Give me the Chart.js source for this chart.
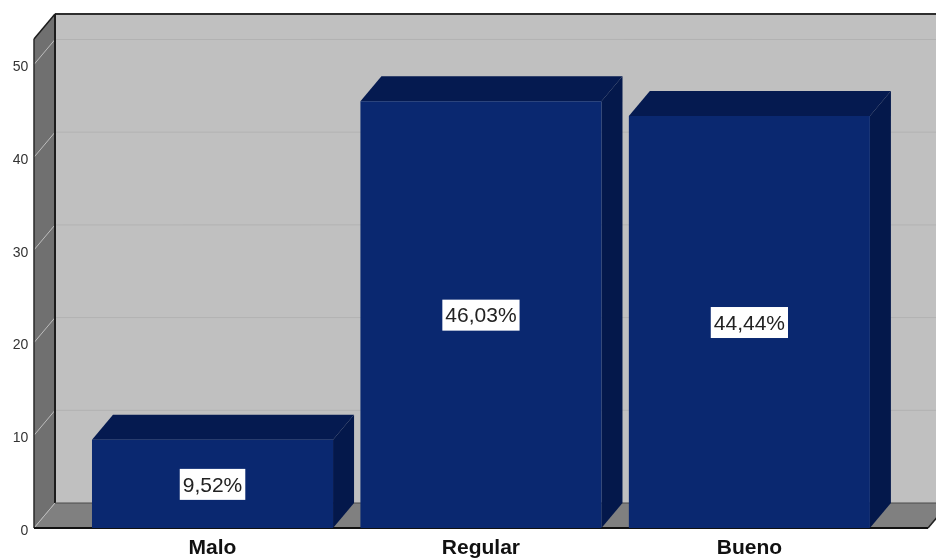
<!DOCTYPE html>
<html>
<head>
<meta charset="utf-8">
<title>Chart</title>
<script src="https://cdn.jsdelivr.net/npm/chart.js@4"></script>
<style>
  body { margin: 0; background: #fff; }
  canvas { display: block; }
</style>
</head>
<body>
<canvas id="barChart" width="936" height="558"></canvas>
<script>
var categories = ['Malo', 'Regular', 'Bueno'];
var percentages = [9.52, 46.03, 44.44];
var percentLabels = ['9,52%', '46,03%', '44,44%'];
var yTicks = [0, 10, 20, 30, 40, 50];

// depth of the fake 3D box, in px
var DEPTH_X = 21;
var DEPTH_Y = 25;

function poly(ctx, pts, fill) {
    ctx.beginPath();
    ctx.moveTo(pts[0][0], pts[0][1]);
    for (var i = 1; i < pts.length; i++) ctx.lineTo(pts[i][0], pts[i][1]);
    ctx.closePath();
    ctx.fillStyle = fill;
    ctx.fill();
}

function line(ctx, x1, y1, x2, y2, color, width) {
    ctx.beginPath();
    ctx.moveTo(x1, y1);
    ctx.lineTo(x2, y2);
    ctx.strokeStyle = color;
    ctx.lineWidth = width;
    ctx.stroke();
}

// Back wall, left wall, floor and the grid lines on them
var boxPlugin = {
    id: 'box3d',
    beforeDatasetsDraw: function (chart) {
        var ctx = chart.ctx;
        var y = chart.scales.y;
        var area = chart.chartArea;
        var left = 34, right = 928;
        var bottom = y.getPixelForValue(0), top = area.top;

        ctx.save();
        poly(ctx, [[left + DEPTH_X, top - DEPTH_Y], [right + DEPTH_X, top - DEPTH_Y],
            [right + DEPTH_X, bottom - DEPTH_Y], [left + DEPTH_X, bottom - DEPTH_Y]], '#c0c0c0');
        poly(ctx, [[left, top], [left + DEPTH_X, top - DEPTH_Y],
            [left + DEPTH_X, bottom - DEPTH_Y], [left, bottom]], '#707070');
        poly(ctx, [[left, bottom], [left + DEPTH_X, bottom - DEPTH_Y],
            [right + DEPTH_X, bottom - DEPTH_Y], [right, bottom]], '#808080');

        yTicks.forEach(function (v) {
            var py = y.getPixelForValue(v);
            line(ctx, left, py, left + DEPTH_X, py - DEPTH_Y, '#bdbdbd', 1);
            if (v > 0) line(ctx, left + DEPTH_X, py - DEPTH_Y, right + DEPTH_X, py - DEPTH_Y, '#b2b2b2', 1);
        });

        line(ctx, left + DEPTH_X, top - DEPTH_Y, 936, top - DEPTH_Y, '#2e2e2e', 2);
        line(ctx, left + DEPTH_X, top - DEPTH_Y, left + DEPTH_X, bottom - DEPTH_Y, '#1c1c1c', 2);
        line(ctx, left + DEPTH_X, bottom - DEPTH_Y, 936, bottom - DEPTH_Y, '#4a4a4a', 1);
        line(ctx, left, top, left + DEPTH_X, top - DEPTH_Y, '#1c1c1c', 1.5);
        line(ctx, left, top, left, bottom, '#2a2a2a', 1.5);
        line(ctx, left, bottom, right, bottom, '#111', 2);
        line(ctx, right, bottom, right + DEPTH_X, bottom - DEPTH_Y, '#222', 1.5);

        // top and side faces of the bars
        chart.getDatasetMeta(0).data.forEach(function (bar) {
            var l = bar.x - bar.width / 2, r = bar.x + bar.width / 2;
            poly(ctx, [[l, bar.y], [l + DEPTH_X, bar.y - DEPTH_Y], [r + DEPTH_X, bar.y - DEPTH_Y], [r, bar.y]], '#051a50');
            poly(ctx, [[r, bar.y], [r + DEPTH_X, bar.y - DEPTH_Y], [r + DEPTH_X, bar.base - DEPTH_Y], [r, bar.base]], '#04184b');
        });
        ctx.restore();
    }
};

// White percentage boxes in the middle of each bar
var labelPlugin = {
    id: 'percentBoxes',
    afterDatasetsDraw: function (chart) {
        var ctx = chart.ctx;
        ctx.save();
        ctx.font = '21px "Liberation Sans"';
        ctx.textAlign = 'center';
        ctx.textBaseline = 'middle';
        chart.getDatasetMeta(0).data.forEach(function (bar, i) {
            var midY = (bar.y + bar.base) / 2;
            var w = ctx.measureText(percentLabels[i]).width + 6;
            ctx.fillStyle = '#fff';
            ctx.fillRect(bar.x - w / 2, midY - 15, w, 31);
            ctx.fillStyle = '#222';
            ctx.fillText(percentLabels[i], bar.x, midY + 2);
        });
        ctx.restore();
    }
};

window.onload = function () {
    new Chart(document.getElementById('barChart').getContext('2d'), {
        type: 'bar',
        data: {
            labels: categories,
            datasets: [{
                data: percentages,
                backgroundColor: '#0a2870',
                borderWidth: 0,
                barPercentage: 0.898,
                categoryPercentage: 1
            }]
        },
        options: {
            responsive: false,
            animation: false,
            layout: { padding: { top: 39, right: 52.4, left: 0, bottom: 0 } },
            plugins: { legend: { display: false }, tooltip: { enabled: false } },
            scales: {
                x: {
                    grid: { display: false, drawTicks: false },
                    border: { display: false },
                    afterFit: function (scale) {
                        scale.height = 30;
                        scale.paddingLeft = scale.paddingRight = 0;
                    },
                    ticks: {
                        padding: 8,
                        maxRotation: 0,
                        color: '#111',
                        font: { family: 'Liberation Sans', size: 21, weight: 'bold' }
                    }
                },
                y: {
                    min: 0,
                    max: 52.75,
                    grid: { display: false, drawTicks: false },
                    border: { display: false },
                    afterFit: function (scale) {
                        scale.width = 78.3;
                        scale.paddingTop = scale.paddingBottom = 0;
                    },
                    afterBuildTicks: function (scale) {
                        scale.ticks = yTicks.map(function (v) { return { value: v }; });
                    },
                    ticks: {
                        padding: 50,
                        labelOffset: 3,
                        color: '#333',
                        font: { family: 'Liberation Sans', size: 14 }
                    }
                }
            }
        },
        plugins: [boxPlugin, labelPlugin]
    });
};
</script>
</body>
</html>
